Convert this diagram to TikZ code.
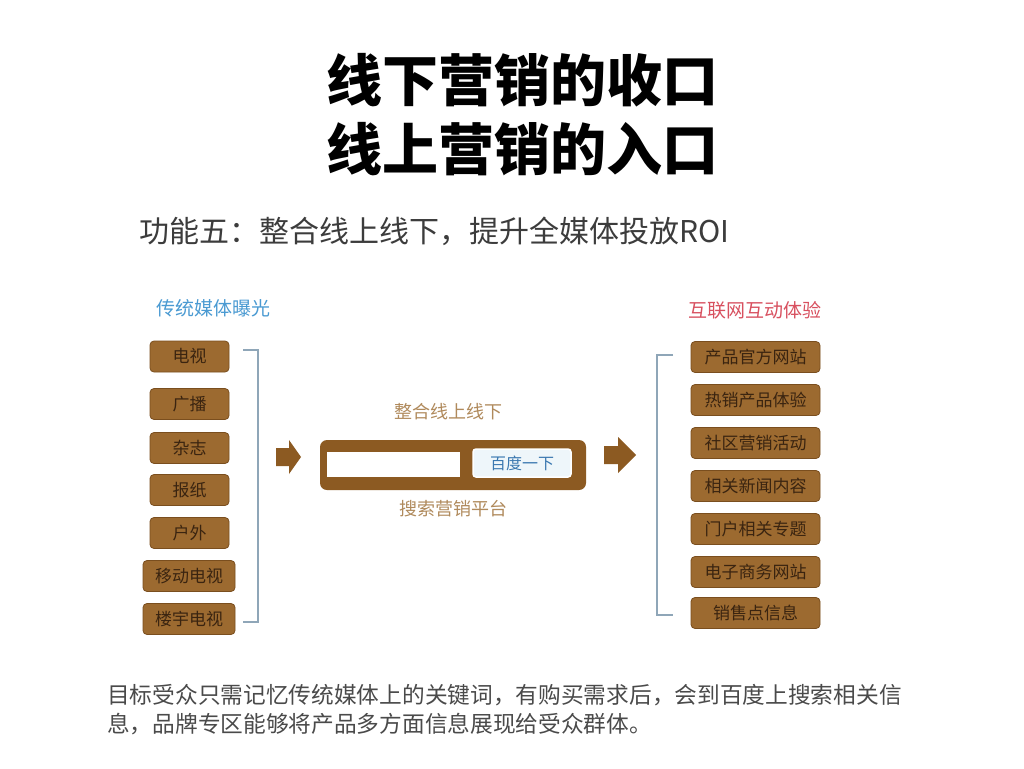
\documentclass[tikz,border=0pt]{standalone}
\usepackage{fontspec}
\setmainfont{Noto Sans CJK SC}
\newfontfamily\titlefont{Noto Sans CJK SC Black}
\definecolor{boxbrown}{HTML}{9C6A30}
\definecolor{boxedge}{HTML}{7A4E1E}
\definecolor{boxtext}{HTML}{3A2410}
\definecolor{framebrown}{HTML}{8C5A22}
\definecolor{tan}{HTML}{B08A5C}
\definecolor{hblue}{HTML}{4A9AD2}
\definecolor{hred}{HTML}{D8505F}
\definecolor{brk}{HTML}{8FA6B8}
\definecolor{subgray}{HTML}{3C3C3C}
\definecolor{botgray}{HTML}{4A4A4A}
\definecolor{btnblue}{HTML}{3A78B0}
\definecolor{btnfill}{HTML}{EEF6FA}
\begin{document}
\begin{tikzpicture}[x=1pt,y=-1pt,
  mediabox/.style={draw=boxedge, line width=0.8pt, fill=boxbrown, rounded corners=4pt,
    minimum height=31pt, inner sep=0pt, text=boxtext, font=\fontsize{17}{17}\selectfont},
  lbox/.style={mediabox, minimum width=79pt},
  lwide/.style={mediabox, minimum width=92pt},
  rbox/.style={mediabox, minimum width=129pt},
  bracket/.style={draw=brk, line width=1.3pt},
  blockarrow/.style={fill=framebrown, draw=none},
  hdr/.style={inner sep=0pt, font=\fontsize{19}{19}\selectfont},
  tanlabel/.style={inner sep=0pt, text=tan, font=\fontsize{18}{18}\selectfont},
  bottom/.style={inner sep=0pt, anchor=west, text=botgray, font=\fontsize{22.7}{23}\selectfont}
]
\useasboundingbox (0,0) rectangle (1024,768);
\fill[white] (0,0) rectangle (1024,768);

% title
\node[inner sep=0pt, font=\titlefont\fontsize{56}{56}\selectfont] (t1) at (522,80) {线下营销的收口};
\node[inner sep=0pt, font=\titlefont\fontsize{56}{56}\selectfont] (t2) at (522,149) {线上营销的入口};

% subtitle
\node[inner sep=0pt, anchor=west, text=subgray, font=\fontsize{30}{30}\selectfont] (sub) at (139,231) {功能五：整合线上线下，提升全媒体投放ROI};

% headers
\node[hdr, text=hblue] (lh) at (213,308) {传统媒体曝光};
\node[hdr, text=hred] (rh) at (755,310) {互联网互动体验};

% left boxes
\node[lbox] (l1) at (189.5,356.5) {电视};
\node[lbox] (l2) at (189.5,404) {广播};
\node[lbox] (l3) at (189.5,448) {杂志};
\node[lbox] (l4) at (189.5,490) {报纸};
\node[lbox] (l5) at (189.5,533) {户外};
\node[lwide] (l6) at (189,576) {移动电视};
\node[lwide] (l7) at (189,619) {楼宇电视};

% left bracket
\coordinate (lbt) at (243,350);
\coordinate (lbb) at (243,622);
\draw[bracket] (lbt) -- ++(15,0) |- (lbb);

% right boxes
\node[rbox] (r1) at (755.5,357) {产品官方网站};
\node[rbox] (r2) at (755.5,400) {热销产品体验};
\node[rbox] (r3) at (755.5,443) {社区营销活动};
\node[rbox] (r4) at (755.5,486) {相关新闻内容};
\node[rbox] (r5) at (755.5,529) {门户相关专题};
\node[rbox] (r6) at (755.5,572) {电子商务网站};
\node[rbox] (r7) at (755.5,613) {销售点信息};

% right bracket
\coordinate (rbt) at (673,355);
\coordinate (rbb) at (673,615);
\draw[bracket] (rbt) -- ++(-16,0) |- (rbb);

% arrows
\fill[blockarrow] (276,448) -- (289,448) -- (289,440) -- (301,457) -- (289,474) -- (289,466) -- (276,466) -- cycle;
\fill[blockarrow] (604,446) -- (618,446) -- (618,437) -- (636,455) -- (618,473) -- (618,464) -- (604,464) -- cycle;

% search platform
\node[tanlabel] (top) at (448,412) {整合线上线下};
\node[fill=framebrown, rounded corners=7pt, minimum width=266pt, minimum height=50pt, inner sep=0pt] (frame) at (453,465) {};
\node[fill=white, minimum width=133pt, minimum height=25pt, inner sep=0pt] (field) at (393.5,464.5) {};
\node[fill=btnfill, draw=white, line width=1.5pt, rounded corners=3pt, minimum width=98pt, minimum height=28pt, inner sep=0pt, text=btnblue, font=\fontsize{16}{16}\selectfont] (btn) at (522,463) {百度一下};
\node[tanlabel] (bot) at (453,509) {搜索营销平台};

% bottom text
\node[bottom] (b1) at (107,695) {目标受众只需记忆传统媒体上的关键词，有购买需求后，会到百度上搜索相关信};
\node[bottom] (b2) at (107,724) {息，品牌专区能够将产品多方面信息展现给受众群体。};
\end{tikzpicture}
\end{document}
